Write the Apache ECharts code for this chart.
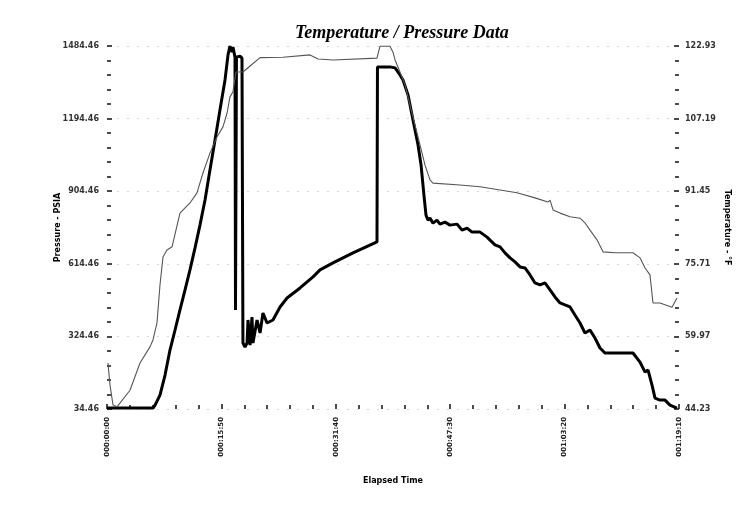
<!DOCTYPE html>
<html>
<head>
<meta charset="utf-8">
<script src="https://cdn.jsdelivr.net/npm/echarts@6/dist/echarts.min.js"></script>
<style>html,body{margin:0;padding:0;background:#fff}#c{width:751px;height:508px}</style>
</head>
<body>
<div id="c"></div>
<script>
// Elapsed time (s) and pressure (PSIA) — thick line, left axis
const pressureTime = [0,382,399,440,482,523,565,606,648,689,731,772,814,855,897,938,980,1005,1021,1038,1046,1063,1067,1075,1104,1121,1129,1146,1163,1171,1188,1204,1212,1246,1271,1295,1329,1378,1437,1495,1603,1711,1769,1877,2043,2242,2246,2292,2350,2392,2433,2458,2500,2541,2583,2608,2632,2649,2666,2682,2707,2740,2765,2807,2848,2907,2948,2990,3031,3098,3156,3181,3222,3264,3305,3347,3388,3430,3471,3513,3554,3596,3637,3679,3720,3762,3803,3845,3886,3928,3969,4011,4052,4094,4135,4368,4426,4468,4493,4526,4551,4592,4634,4675,4733];
const pressureValues = [38,38,50,90,170,270,350,430,510,590,678,769,869,989,1109,1229,1349,1449,1484,1460,1480,1440,430,1440,1444,1436,298,282,298,390,290,402,298,390,338,418,378,390,442,478,518,562,590,618,658,702,1401,1401,1401,1397,1369,1349,1289,1189,1089,1009,889,809,789,797,777,789,773,781,769,773,749,757,741,741,721,709,690,682,658,638,622,602,598,570,538,530,538,510,482,458,450,442,410,378,338,350,318,278,258,258,222,182,190,130,78,70,70,50,38];
// Elapsed time (s) and temperature (°F) — thin line, right axis
const tempTime = [8,25,50,83,191,274,357,382,415,440,465,498,540,606,689,747,797,855,913,963,997,1021,1046,1071,1129,1188,1271,1462,1686,1752,1877,2242,2267,2350,2375,2392,2433,2475,2516,2558,2599,2641,2682,2707,2931,3098,3264,3405,3554,3662,3679,3704,3762,3845,3928,3969,4011,4069,4119,4219,4368,4426,4468,4509,4534,4592,4692,4733];
const tempValues = [54.2,49.4,45.1,44.7,48.3,54.2,57.7,59.2,62.9,71.1,77.2,78.7,79.4,86.7,88.9,91.1,95.4,99.7,103.2,105.4,108.4,111.9,113.0,117.3,117.3,118.6,120.4,120.5,121.0,120.1,119.9,120.3,122.9,122.9,121.6,119.9,117.3,114.5,110.1,105.8,101.5,97.1,93.9,93.2,92.8,92.4,91.7,91.1,90.0,89.1,89.5,87.4,86.7,85.9,85.6,84.6,83.0,80.9,78.3,78.1,78.1,77.0,74.8,73.3,67.2,67.2,66.3,68.3];
// Axis scales
const timeMin = 0, timeMax = 4750, timeStep = 950;
const pressMin = 34.46, pressMax = 1484.46, pressStep = 290;
const tempMin = 44.23, tempMax = 122.93, tempStep = 15.74;

function hms(s){
  s = Math.round(s);
  const h = Math.floor(s/3600), m = Math.floor((s%3600)/60), x = s%60;
  const p = n => String(n).padStart(2,'0');
  return '0'+p(h)+':'+p(m)+':'+p(x);
}
const zip = (a,b) => a.map((v,i)=>[v,b[i]]);

const chart = echarts.init(document.getElementById('c'), null, {renderer:'canvas'});
const tickStyle = {color:'#111', width:1.5};
chart.setOption({
  backgroundColor:'#fff',
  animation:false,
  title:{
    text:'Temperature / Pressure Data',
    left:290, top:19,
    textStyle:{fontFamily:'Liberation Serif', fontStyle:'italic', fontWeight:'bold', fontSize:18, color:'#000'}
  },
  grid:{left:107, right:72, top:46, bottom:99},
  xAxis:{
    type:'value', min:timeMin, max:timeMax, interval:timeStep,
    name:'Elapsed Time', nameLocation:'middle', nameGap:68, nameMoveOverlap:false,
    nameTextStyle:{fontFamily:'DejaVu Sans', fontWeight:'bold', fontSize:8, color:'#000'},
    axisLine:{show:false},
    axisTick:{show:true, inside:true, length:5, lineStyle:tickStyle},
    minorTick:{show:true, splitNumber:5, length:4, lineStyle:tickStyle},
    splitLine:{show:false},
    axisLabel:{rotate:90, fontSize:7, fontWeight:'bold', color:'#222', margin:8, fontFamily:'DejaVu Sans', formatter:hms}
  },
  yAxis:[{
    type:'value', min:pressMin, max:pressMax, interval:pressStep,
    name:'Pressure - PSIA', nameLocation:'middle', nameGap:45, nameRotate:90, nameMoveOverlap:false,
    nameTextStyle:{fontFamily:'DejaVu Sans', fontWeight:'bold', fontSize:8, color:'#000'},
    axisLine:{show:false},
    axisTick:{show:true, inside:true, length:5, lineStyle:tickStyle},
    minorTick:{show:true, splitNumber:5, length:4, lineStyle:tickStyle},
    splitLine:{show:true, lineStyle:{color:'#d8d8d8', type:[2,8], width:1}},
    axisLabel:{fontSize:8, fontWeight:'bold', color:'#333', margin:8, fontFamily:'DejaVu Sans', formatter:v=>v.toFixed(2)}
  },{
    type:'value', min:tempMin, max:tempMax, interval:tempStep,
    name:'Temperature - °F', nameLocation:'middle', nameGap:44, nameRotate:-90, nameMoveOverlap:false,
    nameTextStyle:{fontFamily:'DejaVu Sans', fontWeight:'bold', fontSize:8, color:'#000'},
    axisLine:{show:false},
    axisTick:{show:true, inside:true, length:5, lineStyle:tickStyle},
    minorTick:{show:true, splitNumber:5, length:4, lineStyle:tickStyle},
    splitLine:{show:false},
    axisLabel:{fontSize:8, fontWeight:'bold', color:'#333', margin:6, fontFamily:'DejaVu Sans', formatter:v=>v.toFixed(2)}
  }],
  series:[{
    type:'line', name:'Pressure', yAxisIndex:0, showSymbol:false,
    data: zip(pressureTime, pressureValues),
    lineStyle:{color:'#000', width:3}
  },{
    type:'line', name:'Temperature', yAxisIndex:1, showSymbol:false,
    data: zip(tempTime, tempValues),
    lineStyle:{color:'#555', width:1.1}
  }]
});
</script>
</body>
</html>
